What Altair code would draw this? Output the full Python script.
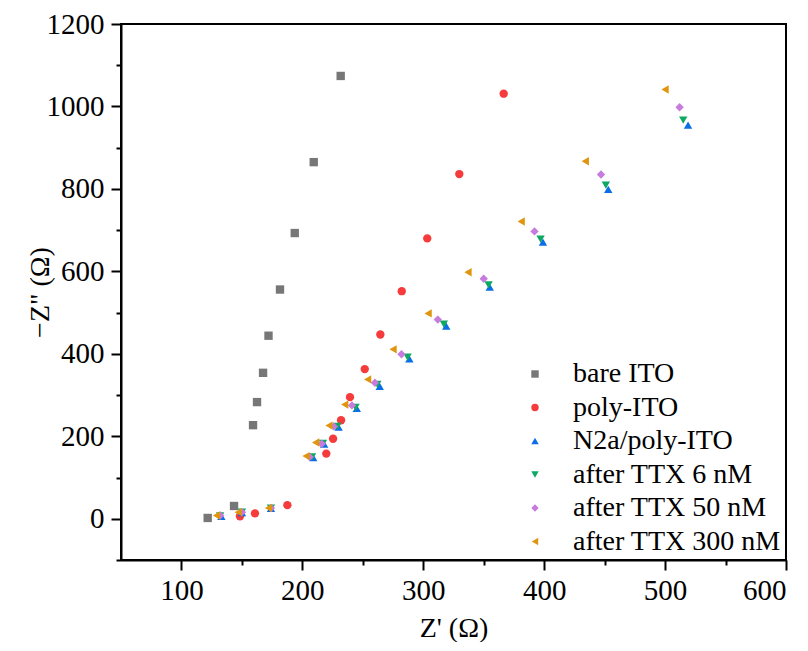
import altair as alt
import pandas as pd

series_names = ["bare ITO", "poly-ITO", "N2a/poly-ITO",
                "\u00a0after TTX 6 nM", "\u00a0after TTX 50 nM", "\u00a0after TTX 300 nM"]

bare_x = [121.7, 143.5, 159.2, 162.5, 167.5, 172.0, 181.5, 193.7, 209.4, 231.7]
bare_y = [2, 31, 227, 283, 354, 444, 556, 693, 865, 1074]

poly_x = [148.4, 160.8, 187.6, 219.8, 225.4, 232.0, 239.4, 251.6, 264.5, 282.2, 303.3, 329.8, 366.5]
poly_y = [6, 13, 33, 158, 194, 239, 295, 363, 447, 552, 680, 836, 1031]

n2a_x = [133, 150, 174, 209, 218, 230, 245, 264, 288.5, 319, 355, 399, 453, 519]
n2a_y = [6, 15, 25, 148, 181, 222, 268, 321, 388, 467, 562, 671, 799, 955]

ttx6_x = [132, 150, 174, 208, 217, 229, 244, 262, 287, 317, 354, 397, 451, 515]
ttx6_y = [7, 16, 26, 150, 183, 224, 270, 326, 392, 472, 567, 678, 809, 967]

ttx50_x = [132, 150, 174, 206, 216, 226, 241, 260, 282, 312, 350, 392, 447, 512]
ttx50_y = [8, 16, 26, 150, 182, 224, 275, 330, 399, 483, 582, 697, 835, 998]

ttx300_x = [129, 147, 172, 203, 211, 222, 235, 254, 275, 304, 337, 381, 434, 500]
ttx300_y = [8, 16, 26, 152, 185, 226, 277, 338, 411, 498, 598, 721, 867, 1041]

colors = ["#777777", "#F53B3B", "#0A6EE6", "#0FA862", "#C67BDD", "#E0950E"]
shapes = ["square", "circle", "triangle-up", "triangle-down", "diamond", "triangle-left"]

x_major = [100, 200, 300, 400, 500, 600]
x_minor = [150, 250, 350, 450, 550]
y_major = [0, 200, 400, 600, 800, 1000, 1200]
y_minor = [-100, 100, 300, 500, 700, 900, 1100]

rows = []
for name, xs, ys in zip(series_names,
                        [bare_x, poly_x, n2a_x, ttx6_x, ttx50_x, ttx300_x],
                        [bare_y, poly_y, n2a_y, ttx6_y, ttx50_y, ttx300_y]):
    for xv, yv in zip(xs, ys):
        rows.append({"series": name, "zr": xv, "zi": yv})
df = pd.DataFrame(rows)

FONT = "Times New Roman, Liberation Serif, serif"
xscale = alt.Scale(domain=[50, 600], nice=False, zero=False)
yscale = alt.Scale(domain=[-100, 1200], nice=False, zero=False)

points = alt.Chart(df).mark_point(filled=True, size=70, opacity=1).encode(
    x=alt.X("zr:Q", scale=xscale,
            axis=alt.Axis(values=x_major, format="d", title="Z' (\u03a9)", tickSize=10,
                          labelPadding=6, titlePadding=9, orient="bottom")),
    y=alt.Y("zi:Q", scale=yscale,
            axis=alt.Axis(values=y_major, format="d", title="\u2212Z\" (\u03a9)", tickSize=10,
                          labelPadding=7, titleX=-67, orient="left")),
    color=alt.Color("series:N", sort=series_names,
                    scale=alt.Scale(domain=series_names, range=colors),
                    legend=alt.Legend(title=None, orient="none", legendX=400, legendY=336,
                                      labelFont=FONT, labelFontSize=28, symbolSize=55,
                                      labelOffset=24, rowPadding=5.5, labelLimit=0,
                                      symbolStrokeWidth=0, labelColor="black")),
    shape=alt.Shape("series:N", sort=series_names,
                    scale=alt.Scale(domain=series_names, range=shapes)),
)

minor = alt.Chart(df).mark_point(opacity=0).encode(
    x=alt.X("zr:Q", scale=xscale,
            axis=alt.Axis(values=x_minor, labels=False, title=None, tickSize=5,
                          domain=False, orient="bottom")),
    y=alt.Y("zi:Q", scale=yscale,
            axis=alt.Axis(values=y_minor, labels=False, title=None, tickSize=5,
                          domain=False, orient="left")),
)

chart = alt.layer(minor, points).resolve_axis(x="independent", y="independent").properties(
    width=665, height=536,
    autosize=alt.AutoSizeParams(type="none"),
    padding={"left": 113, "top": 16, "right": 10, "bottom": 82},
).configure_view(
    stroke="black", strokeWidth=2
).configure_axis(
    grid=False, domainColor="black", domainWidth=2, tickColor="black", tickWidth=2,
    labelFont=FONT, labelFontSize=29, labelColor="black",
    titleFont=FONT, titleFontSize=28, titleFontWeight="normal", titleColor="black",
)

chart.save("out.html", embed_options={"renderer": "svg", "actions": False})
